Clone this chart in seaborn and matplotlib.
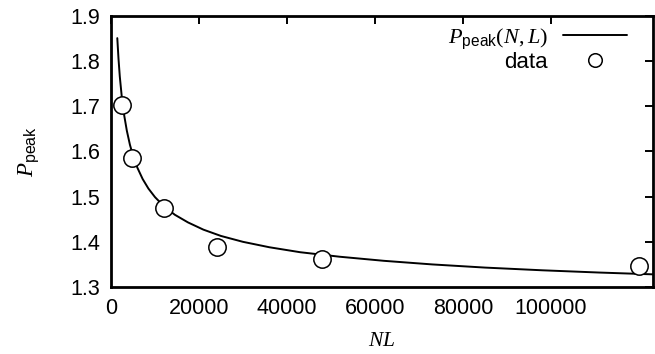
import matplotlib
matplotlib.use("Agg")
import matplotlib.pyplot as plt
import seaborn as sns
import pandas as pd

# data points
data_nl = [2400, 4800, 12000, 24000, 48000, 120000]
data_p = [1.702, 1.585, 1.474, 1.389, 1.361, 1.346]

# curve P_peak(N,L), values
curve_nl = [1430, 1700, 2000, 2430, 3000, 3600, 4300, 5000, 6000, 7200,
            8500, 10000, 12000, 14500, 17500, 21000, 25000, 30000, 36000,
            43000, 52000, 62000, 73000, 85000, 98000, 111000, 123200]
curve_p = [1.851, 1.806, 1.766, 1.723, 1.680, 1.646, 1.615, 1.591, 1.564, 1.539,
           1.518, 1.499, 1.479, 1.460, 1.443, 1.427, 1.413, 1.400, 1.388,
           1.377, 1.367, 1.358, 1.350, 1.343, 1.337, 1.332, 1.328]

xticks = [0, 20000, 40000, 60000, 80000, 100000]
yticks = [1.3, 1.4, 1.5, 1.6, 1.7, 1.8, 1.9]

sns.set_theme(style="white")
plt.rcParams["font.family"] = ["Liberation Sans", "DejaVu Sans"]
plt.rcParams["mathtext.fontset"] = "custom"
plt.rcParams["mathtext.rm"] = "Liberation Serif"
plt.rcParams["mathtext.it"] = "Liberation Serif:italic"
plt.rcParams["mathtext.sf"] = "Liberation Sans"
plt.rcParams["text.color"] = "black"
plt.rcParams["axes.labelcolor"] = "black"

fig = plt.figure(figsize=(6.55, 3.54), dpi=100)
ax = fig.add_axes([111 / 655, 1 - 287 / 354, (653 - 111) / 655, (287 - 16) / 354])

df_curve = pd.DataFrame({"NL": curve_nl, "P": curve_p})

sns.lineplot(data=df_curve, x="NL", y="P", ax=ax, color="black", lw=1.4,
             label=r"$P_{\mathsf{peak}}(N,L)$", zorder=2)
ax.plot(data_nl, data_p, ls="none", marker="o", ms=12.5, mfc="white",
        mec="black", mew=1.1, label="data", zorder=3)

ax.set_xlim(0, 123200)
ax.set_ylim(1.3, 1.9)
ax.set_xticks(xticks)
ax.set_xticklabels([str(t) for t in xticks])
ax.set_yticks(yticks)
ax.set_yticklabels([f"{t:.1f}" for t in yticks])

for s in ax.spines.values():
    s.set_linewidth(2.0)
    s.set_color("black")
ax.tick_params(direction="in", length=5.5, width=1.4, top=True, right=True,
               labelsize=15.5, colors="black")
ax.tick_params(axis="x", pad=8)
ax.tick_params(axis="y", pad=8)

ax.set_xlabel(r"$NL$", fontsize=15.5, labelpad=8, color="black")
ax.set_ylabel(r"$P_{\mathsf{peak}}$", fontsize=16.5, labelpad=21, color="black")

leg = ax.legend(loc="upper right", bbox_to_anchor=(0.952, 0.962),
                frameon=False, markerfirst=False,
                fontsize=16, handlelength=2.9, handletextpad=0.65,
                labelspacing=0.06, borderaxespad=0.0, borderpad=0.0,
                markerscale=0.78)
for t in leg.get_texts():
    t.set_ha("right")
    t.set_color("black")

fig.savefig("out.png", dpi=100)
